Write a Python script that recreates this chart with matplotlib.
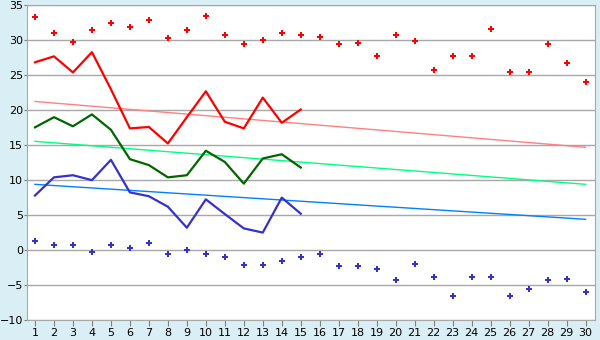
import matplotlib
matplotlib.use("Agg")
import matplotlib.pyplot as plt

# days of the month
days = list(range(1, 31))
days15 = list(range(1, 16))

# record highs / lows (dots)
rec_max = [33.3, 31.0, 29.7, 31.4, 32.4, 31.9, 32.9, 30.3, 31.4, 33.4,
           30.7, 29.4, 30.0, 31.0, 30.7, 30.4, 29.4, 29.6, 27.8, 30.7,
           29.85, 25.7, 27.8, 27.8, 31.6, 25.4, 25.4, 29.4, 26.8, 24.0]
rec_min = [1.25, 0.7, 0.7, -0.3, 0.7, 0.25, 1.0, -0.6, 0.05, -0.5,
           -1.05, -2.2, -2.2, -1.6, -1.05, -0.6, -2.3, -2.3, -2.75, -4.3,
           -2.05, -3.9, -6.6, -3.9, -3.9, -6.6, -5.6, -4.3, -4.2, -6.05]

# this month's observed values (first 15 days)
t_max = [26.85, 27.7, 25.4, 28.3, 23.0, 17.4, 17.6, 15.25, 19.0, 22.7,
         18.35, 17.4, 21.8, 18.2, 20.1]
t_avg = [17.55, 19.0, 17.7, 19.4, 17.2, 13.0, 12.15, 10.4, 10.7, 14.2,
         12.6, 9.5, 13.1, 13.7, 11.8]
t_min = [7.8, 10.4, 10.7, 10.0, 12.9, 8.25, 7.7, 6.2, 3.2, 7.25,
         5.15, 3.1, 2.5, 7.5, 5.2]

# long-term normals (straight lines, start and end of month)
norm_days = [1, 30]
norm_max = [21.25, 14.7]
norm_avg = [15.55, 9.4]
norm_min = [9.4, 4.4]

fig = plt.figure(figsize=(6, 3.4), dpi=100)
fig.patch.set_facecolor('#d9eff5')
ax = fig.add_axes([0.045, 0.0588, 0.9467, 0.9256])
ax.set_facecolor('white')

ax.plot(norm_days, norm_max, color='#ff8080', lw=1)
ax.plot(norm_days, norm_avg, color='#00ff80', lw=1)
ax.plot(norm_days, norm_min, color='#0080ff', lw=1)

ax.plot(days15, t_max, color='#ff0000', lw=1.6)
ax.plot(days15, t_avg, color='#006600', lw=1.6)
ax.plot(days15, t_min, color='#3333cc', lw=1.6)

ax.plot(days, rec_max, 'P', color='#ff0000', ms=5, mew=0)
ax.plot(days, rec_min, 'P', color='#3333cc', ms=5, mew=0)

ax.set_xlim(0.58, 30.5)
ax.set_ylim(-10, 35)
ax.set_xticks(days)
ax.set_yticks(range(-10, 36, 5))
ax.set_yticklabels([str(v).replace('-', '\u2212') for v in range(-10, 36, 5)])
ax.grid(axis='y', color='#a8a8a8', lw=1)
ax.set_axisbelow(True)
ax.tick_params(labelsize=8, color='#808080', length=4, pad=2)
ax.tick_params(axis='y', length=2, pad=1)
for s in ax.spines.values():
    s.set_color('#a8a8a8')

plt.savefig('out.png', dpi=100, facecolor=fig.get_facecolor())
